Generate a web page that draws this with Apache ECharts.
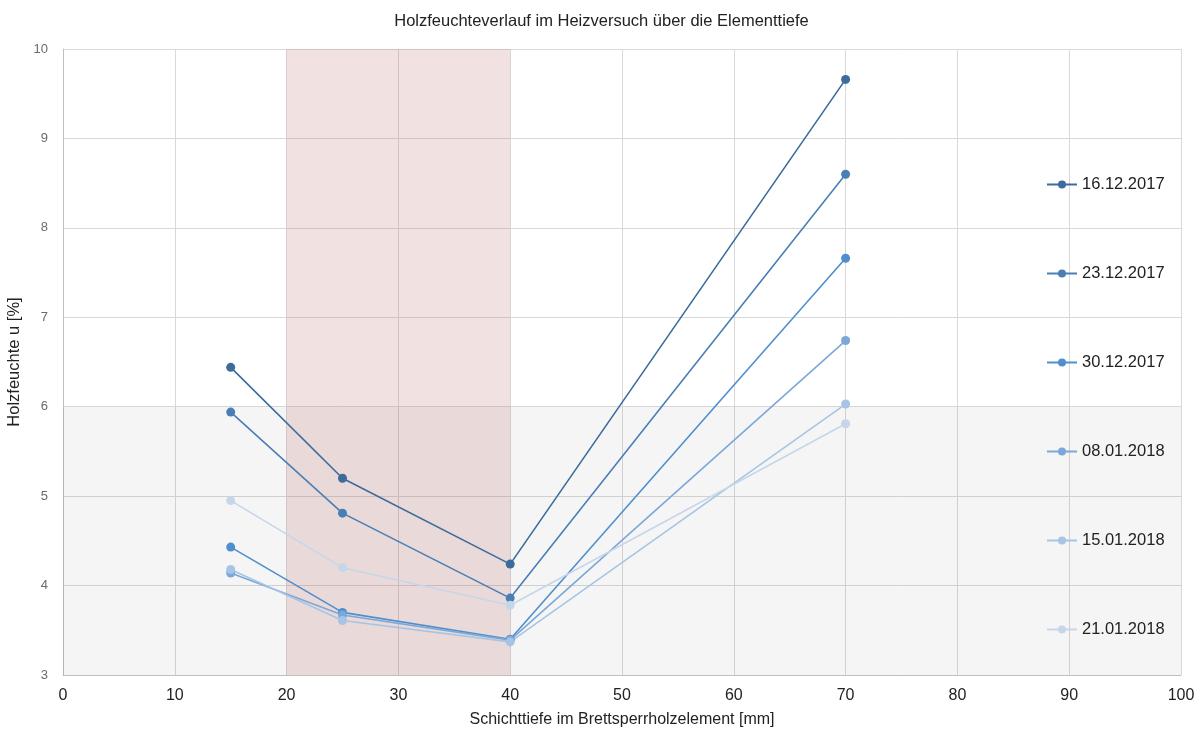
<!DOCTYPE html>
<html><head><meta charset="utf-8">
<script src="https://cdn.jsdelivr.net/npm/echarts@6/dist/echarts.min.js"></script>
<style>html,body{margin:0;padding:0;background:#fff}#c{width:1203px;height:729px}</style>
</head><body><div id="c"></div>
<script>
const depths = [15, 25, 40, 70];
const seriesNames = ['16.12.2017','23.12.2017','30.12.2017','08.01.2018','15.01.2018','21.01.2018'];
const s1612 = [6.44, 5.20, 4.24, 9.66];
const s2312 = [5.94, 4.81, 3.86, 8.60];
const s3012 = [4.43, 3.70, 3.40, 7.66];
const s0801 = [4.14, 3.67, 3.39, 6.74];
const s1501 = [4.18, 3.61, 3.37, 6.03];
const s2101 = [4.95, 4.20, 3.78, 5.81];
const xTicks = [0,10,20,30,40,50,60,70,80,90,100];
const yTicks = [3,4,5,6,7,8,9,10];
const heaterZone = [20, 40];
const lowBand = [3, 6];

const colors = ['#3d6b9b','#4a7fb6','#4f8fcd','#7ba8d8','#a7c4e4','#c6d6ea'];
const allData = [s1612, s2312, s3012, s0801, s1501, s2101];

const series = seriesNames.map((n, i) => ({
  name: n, type: 'line', z: 2,
  data: depths.map((d, j) => [d, allData[i][j]]),
  symbol: 'circle', symbolSize: 9,
  itemStyle: { color: colors[i] },
  lineStyle: { color: colors[i], width: 1.6 },
  emphasis: { disabled: true }
}));
series.push({
  type: 'line', data: [], z: 1, silent: true,
  markArea: { silent: true, itemStyle: { color: 'rgba(0,0,0,0.04)' },
    data: [[{ xAxis: xTicks[0], yAxis: lowBand[0] }, { xAxis: xTicks[xTicks.length-1], yAxis: lowBand[1] }]] }
});
series.push({
  type: 'line', data: [], z: 5, silent: true,
  markArea: { silent: true, itemStyle: { color: 'rgba(185,110,105,0.2)' },
    data: [[{ xAxis: heaterZone[0], yAxis: yTicks[0] }, { xAxis: heaterZone[1], yAxis: yTicks[yTicks.length-1] }]] }
});

const chart = echarts.init(document.getElementById('c'), null, { renderer: 'canvas' });
chart.setOption({
  animation: false,
  backgroundColor: '#fff',
  textStyle: { fontFamily: 'Liberation Sans, Arial, sans-serif' },
  title: { text: 'Holzfeuchteverlauf im Heizversuch über die Elementtiefe', left: 'center', top: 8,
    textStyle: { fontSize: 16.5, fontWeight: 'normal', color: '#222' } },
  grid: { left: 63, right: 22, top: 49, bottom: 54, outerBoundsMode: 'none', containLabel: false },
  legend: {
    data: seriesNames, orient: 'vertical', left: 1041, top: 171,
    itemWidth: 30, itemHeight: 10, itemGap: 72,
    textStyle: { fontSize: 16.5, color: '#222' }
  },
  xAxis: {
    type: 'value', min: 0, max: 100, interval: 10,
    name: 'Schichttiefe im Brettsperrholzelement [mm]', nameLocation: 'middle', nameGap: 37,
    nameTextStyle: { fontSize: 16, color: '#222' },
    axisLine: { lineStyle: { color: '#bfbfbf' } }, axisTick: { show: false },
    axisLabel: { fontSize: 16, color: '#222', margin: 13 },
    splitLine: { lineStyle: { color: '#d9d9d9' } }
  },
  yAxis: {
    type: 'value', min: 3, max: 10, interval: 1,
    name: 'Holzfeuchte u [%]', nameLocation: 'middle', nameGap: 40,
    nameTextStyle: { fontSize: 16.5, color: '#222' },
    axisLine: { show: true, lineStyle: { color: '#bfbfbf' } }, axisTick: { show: false },
    axisLabel: { fontSize: 13, color: '#6b6b6b', margin: 15 },
    splitLine: { lineStyle: { color: '#d9d9d9' } }
  },
  series: series
});
</script></body></html>
